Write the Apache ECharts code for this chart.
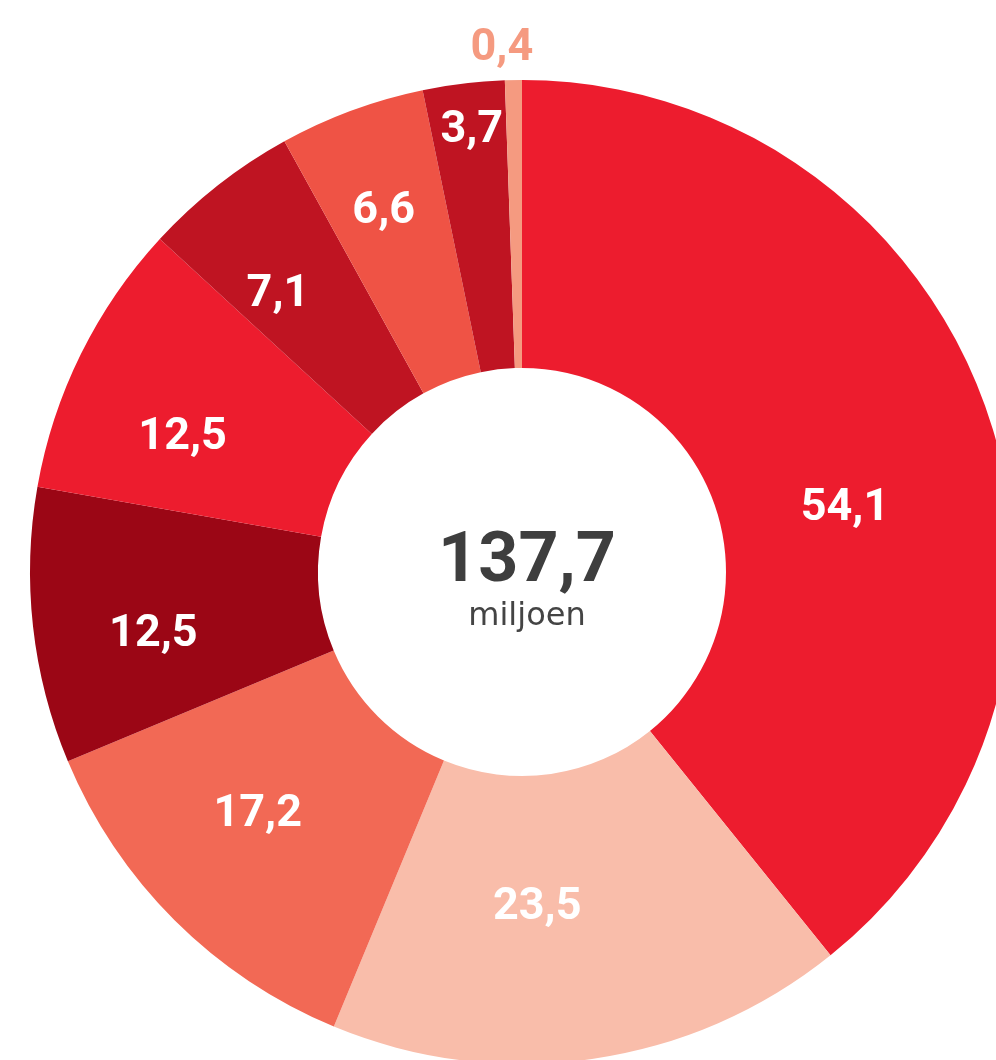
<!DOCTYPE html>
<html>
<head>
<meta charset="utf-8">
<script src="https://cdn.jsdelivr.net/npm/echarts@6/dist/echarts.min.js"></script>
<style>
html,body{margin:0;padding:0;background:#fff;}
#chart{width:996px;height:1060px;}
</style>
</head>
<body>
<div id="chart"></div>
<script>
const categories = ['a','b','c','d','e','f','g','h','i'];
const values = [54.1, 23.5, 17.2, 12.5, 12.5, 7.1, 6.6, 3.7, 0.4];
const totalLabel = '137,7';
const unitLabel = 'miljoen';

const colors = ['#ED1C2E','#F9BDAA','#F26955','#9B0615','#ED1C2E','#BF1422','#EF5345','#BF1422','#F59A80'];
// label placement (angle clockwise from top in degrees, radius in px)
const labelPolar = [[79,329],[177.4,336],[227.4,359],[260.3,374],[291.6,365],[318.6,369],[339,386],[353.5,444],[357.8,524]];
const CX = 522, CY = 572;

const chart = echarts.init(document.getElementById('chart'));
const fmt = v => v.toFixed(1).replace('.', ',');

chart.setOption({
  animation: false,
  title: {
    text: totalLabel,
    subtext: unitLabel,
    left: CX,
    top: 522,
    textAlign: 'center',
    itemGap: 0,
    textStyle: {fontFamily: 'Roboto', fontWeight: 'bold', fontSize: 70, color: '#3E3E3E', lineHeight: 72},
    subtextStyle: {fontFamily: 'DejaVu Sans', fontWeight: 'normal', fontSize: 32, color: '#444444', lineHeight: 36}
  },
  series: [{
    type: 'pie',
    center: [CX, CY],
    radius: [204, 492],
    startAngle: 90,
    clockwise: true,
    minAngle: 2,
    silent: true,
    avoidLabelOverlap: false,
    itemStyle: {borderWidth: 0},
    label: {
      show: true,
      position: 'inside',
      formatter: p => fmt(p.value),
      color: '#ffffff',
      fontFamily: 'Roboto',
      fontWeight: 'bold',
      fontSize: 45
    },
    labelLine: {show: false},
    labelLayout: function (params) {
      const lp = labelPolar[params.dataIndex];
      const a = lp[0] * Math.PI / 180;
      return {
        x: CX + lp[1] * Math.sin(a),
        y: CY - lp[1] * Math.cos(a),
        align: 'center',
        verticalAlign: 'middle'
      };
    },
    data: values.map((v, i) => {
      const d = {name: categories[i], value: v, itemStyle: {color: colors[i]}};
      if (i === values.length - 1) {
        d.label = {position: 'outside', color: colors[i]};
        d.labelLine = {show: false};
      }
      return d;
    })
  }]
});
</script>
</body>
</html>
